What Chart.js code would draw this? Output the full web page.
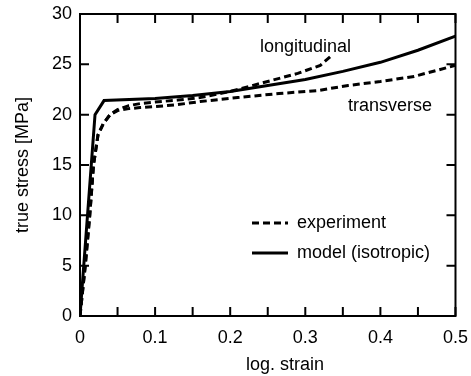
<!DOCTYPE html>
<html>
<head>
<meta charset="utf-8">
<script src="https://cdn.jsdelivr.net/npm/chart.js@4/dist/chart.umd.min.js"></script>
<style>
  html, body { margin: 0; padding: 0; background: #fff; }
  #wrap { width: 471px; height: 376px; }
</style>
</head>
<body>
<div id="wrap"><canvas id="chart" width="471" height="376"></canvas></div>
<script>
// experiment, longitudinal direction
const longStrain = [0, 0.007, 0.013, 0.018, 0.024, 0.031, 0.04, 0.05, 0.065, 0.08, 0.1, 0.13, 0.16, 0.2, 0.25, 0.29, 0.32, 0.337];
const longStress = [0, 5, 10, 15, 18, 19.1, 20, 20.5, 20.9, 21.1, 21.25, 21.45, 21.7, 22.3, 23.3, 24.1, 24.9, 26.0];

// experiment, transverse direction
const transStrain = [0, 0.007, 0.013, 0.018, 0.024, 0.031, 0.04, 0.05, 0.065, 0.08, 0.1, 0.13, 0.16, 0.21, 0.265, 0.317, 0.357, 0.4, 0.445, 0.5];
const transStress = [0, 5, 10, 15, 18, 19.1, 20, 20.4, 20.6, 20.7, 20.8, 21.0, 21.3, 21.7, 22.1, 22.4, 22.9, 23.3, 23.8, 24.9];

// model (isotropic)
const modelStrain = [0, 0.02, 0.032, 0.1, 0.15, 0.2, 0.25, 0.3, 0.35, 0.4, 0.45, 0.5];
const modelStress = [0, 20.0, 21.4, 21.6, 21.9, 22.3, 22.9, 23.5, 24.3, 25.2, 26.4, 27.8];

// tick positions (x labelled every 0.1 only)
const xTickValues = [0, 0.05, 0.1, 0.15, 0.2, 0.25, 0.3, 0.35, 0.4, 0.45, 0.5];
const xTickLabels = ["0", "", "0.1", "", "0.2", "", "0.3", "", "0.4", "", "0.5"];
const yTickValues = [0, 5, 10, 15, 20, 25, 30];

const legendLabels = ["experiment", "model (isotropic)"];
const curveLabels = ["longitudinal", "transverse"];

const FONT = "'Liberation Sans', Arial, sans-serif";
const DASH = [7, 4];

const toPoints = (xs, ys) => xs.map((x, i) => ({ x: x, y: ys[i] }));

// frame with inward ticks, curve labels, legend, x title
const framePlugin = {
  id: "frame",
  afterDraw(chart) {
    const ctx = chart.ctx;
    const a = chart.chartArea;
    const xs = chart.scales.x;
    const ys = chart.scales.y;
    const tl = 9;

    ctx.save();
    ctx.setLineDash([]);
    ctx.strokeStyle = "#000";
    ctx.fillStyle = "#000";
    ctx.lineWidth = 2;
    ctx.strokeRect(a.left, a.top, a.right - a.left, a.bottom - a.top);

    ctx.strokeStyle = "#000";
    ctx.lineWidth = 2;
    ctx.beginPath();
    xTickValues.forEach((v) => {
      const px = xs.getPixelForValue(v);
      ctx.moveTo(px, a.bottom);
      ctx.lineTo(px, a.bottom - tl);
      ctx.moveTo(px, a.top);
      ctx.lineTo(px, a.top + tl);
    });
    yTickValues.forEach((v) => {
      const py = ys.getPixelForValue(v);
      ctx.moveTo(a.left, py);
      ctx.lineTo(a.left + tl, py);
      ctx.moveTo(a.right, py);
      ctx.lineTo(a.right - tl, py);
    });
    ctx.stroke();

    ctx.font = "18px " + FONT;
    ctx.textAlign = "left";
    ctx.textBaseline = "alphabetic";
    ctx.fillText(curveLabels[0], 260, 52);
    ctx.fillText(curveLabels[1], 348, 111);

    // legend
    ctx.lineWidth = 3;
    ctx.setLineDash(DASH);
    ctx.beginPath();
    ctx.moveTo(252, 223); ctx.lineTo(288, 223);
    ctx.stroke();
    ctx.setLineDash([]);
    ctx.beginPath();
    ctx.moveTo(252, 253); ctx.lineTo(288, 253);
    ctx.stroke();
    ctx.textBaseline = "middle";
    ctx.fillText(legendLabels[0], 297, 223);
    ctx.fillText(legendLabels[1], 297, 253);

    // x axis title
    ctx.textAlign = "center";
    ctx.textBaseline = "alphabetic";
    ctx.fillText("log. strain", 285, 370);
    ctx.restore();
  }
};

const lineStyle = (dashed) => ({
  borderColor: "#000",
  borderWidth: 3,
  borderDash: dashed ? DASH : [],
  pointRadius: 0,
  tension: 0,
  fill: false
});

new Chart(document.getElementById("chart").getContext("2d"), {
  type: "line",
  data: {
    datasets: [
      Object.assign({ label: curveLabels[0], data: toPoints(longStrain, longStress) }, lineStyle(true)),
      Object.assign({ label: curveLabels[1], data: toPoints(transStrain, transStress) }, lineStyle(true)),
      Object.assign({ label: legendLabels[1], data: toPoints(modelStrain, modelStress) }, lineStyle(false))
    ]
  },
  options: {
    responsive: false,
    animation: false,
    layout: { autoPadding: false, padding: { top: 14, right: 13, left: 0, bottom: 0 } },
    plugins: { legend: { display: false }, tooltip: { enabled: false } },
    scales: {
      x: {
        type: "linear",
        min: 0,
        max: 0.5,
        afterBuildTicks: (s) => { s.ticks = xTickValues.map((v) => ({ value: v })); },
        afterFit: (s) => { s.height = 60; },
        grid: { display: false },
        ticks: {
          autoSkip: false,
          maxRotation: 0,
          padding: 3,
          color: "#000",
          font: { family: FONT, size: 18 },
          callback: (v, i) => xTickLabels[i]
        }
      },
      y: {
        min: 0,
        max: 30,
        afterBuildTicks: (s) => { s.ticks = yTickValues.map((v) => ({ value: v })); },
        afterFit: (s) => { s.width = 80; },
        grid: { display: false },
        ticks: {
          padding: 0,
          color: "#000",
          font: { family: FONT, size: 18 }
        },
        title: {
          display: true,
          text: "true stress [MPa]",
          color: "#000",
          padding: { top: 12, bottom: 0 },
          font: { family: FONT, size: 18 }
        }
      }
    }
  },
  plugins: [framePlugin]
});
</script>
</body>
</html>
